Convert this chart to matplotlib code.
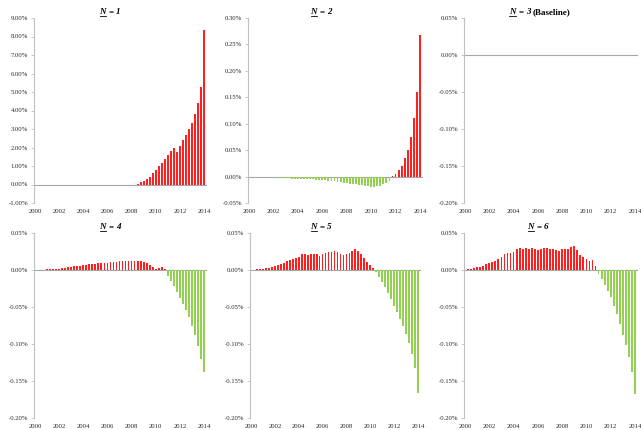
import numpy as np
import matplotlib
matplotlib.use("Agg")
import matplotlib.pyplot as plt
from matplotlib.lines import Line2D
from matplotlib.ticker import FuncFormatter, FixedLocator

plt.rcParams['font.family'] = ['Liberation Serif', 'DejaVu Serif']

# quarterly observations 2000Q1 .. 2014Q1 (x in years)
quarters = [2000 + i / 4 for i in range(57)]

# values in percent
n1 = [0.0] * 16 + [
    -0.005, -0.008, -0.01, -0.012, -0.012, -0.015, -0.015, -0.018, -0.02,
    -0.02, -0.022, -0.025, -0.025, -0.028, -0.03, -0.03, -0.025, -0.015,
    0.05, 0.12, 0.2, 0.3, 0.42, 0.6, 0.78, 0.98, 1.15, 1.38, 1.6, 1.82,
    2.0, 1.75, 2.1, 2.4, 2.65, 3.0, 3.35, 3.8, 4.4, 5.25, 8.35]

n2 = [0.0, 0.0, 0.0, 0.0, -0.0005, -0.001, -0.001, -0.0015,
      -0.002, -0.002, -0.0025, -0.003, -0.003, -0.0035, -0.004, -0.004,
      -0.0045, -0.0045, -0.005, -0.005, -0.0055, -0.0055, -0.006, -0.006,
      -0.0065, -0.007, -0.0075, -0.008,
      -0.009, -0.01, -0.011, -0.012, -0.013, -0.0135, -0.014, -0.015,
      -0.016, -0.016, -0.017, -0.018, -0.019, -0.019, -0.018, -0.017,
      -0.015, -0.012, -0.008,
      0.001, 0.004, 0.012, 0.02, 0.035, 0.05, 0.075, 0.11, 0.16, 0.268]

n3 = [0.0] * 57

n4 = [0.0, 0.0, 0.0003, 0.0005, 0.0007, 0.0009, 0.001, 0.0015, 0.002,
      0.0028, 0.0033, 0.0038, 0.0045, 0.005, 0.0055, 0.006, 0.0065, 0.0072,
      0.008, 0.0078, 0.0085, 0.009, 0.0095, 0.0098, 0.010, 0.0102, 0.011,
      0.0112, 0.012, 0.0125, 0.0122, 0.0118, 0.012, 0.0125, 0.012, 0.0115,
      0.0105, 0.009, 0.0065, 0.004, 0.002, 0.0025, 0.0035, 0.001,
      -0.008, -0.015, -0.022, -0.03, -0.038, -0.046, -0.054, -0.063,
      -0.075, -0.088, -0.103, -0.12, -0.138]

n5 = [0.0, 0.0005, 0.001, 0.0015, 0.002, 0.0025, 0.003, 0.004, 0.005,
      0.007, 0.008, 0.010, 0.012, 0.013, 0.015, 0.016, 0.017, 0.021, 0.021,
      0.020, 0.022, 0.022, 0.021, 0.019, 0.021, 0.023, 0.024, 0.025, 0.026,
      0.024, 0.021, 0.020, 0.021, 0.023, 0.026, 0.028, 0.026, 0.022, 0.016,
      0.011, 0.007, 0.003,
      -0.003, -0.009, -0.016, -0.023, -0.031, -0.039, -0.048, -0.057,
      -0.066, -0.076, -0.087, -0.099, -0.114, -0.132, -0.166]

n6 = [0.0, 0.001, 0.002, 0.003, 0.0036, 0.0045, 0.006, 0.0075, 0.009,
      0.011, 0.0126, 0.015, 0.018, 0.021, 0.0225, 0.023, 0.024, 0.029,
      0.030, 0.029, 0.030, 0.028, 0.030, 0.028, 0.027, 0.029, 0.030, 0.030,
      0.029, 0.028, 0.027, 0.026, 0.028, 0.029, 0.029, 0.031, 0.0325,
      0.027, 0.020, 0.017, 0.0145, 0.0126, 0.013, 0.005,
      -0.006, -0.012, -0.020, -0.028, -0.037, -0.048, -0.060, -0.073,
      -0.088, -0.102, -0.118, -0.138, -0.167]

series = [n1, n2, n3, n4, n5, n6]
title_nums = ["1", "2", "3", "4", "5", "6"]
title_extra = ["", "", "(Baseline)", "", "", ""]
yticks_list = [
    [-1, 0, 1, 2, 3, 4, 5, 6, 7, 8, 9],
    [-0.05, 0.0, 0.05, 0.10, 0.15, 0.20, 0.25, 0.30],
    [-0.20, -0.15, -0.10, -0.05, 0.0, 0.05],
    [-0.20, -0.15, -0.10, -0.05, 0.0, 0.05],
    [-0.20, -0.15, -0.10, -0.05, 0.0, 0.05],
    [-0.20, -0.15, -0.10, -0.05, 0.0, 0.05],
]
xtick_years = [2000, 2002, 2004, 2006, 2008, 2010, 2012, 2014]

W, H = 641, 430
fig = plt.figure(figsize=(W / 100, H / 100), dpi=100)

RED = '#FF1F1F'
GREEN = '#92D050'
GRAY = '#BFBFBF'
TXT = '#262626'

x2000 = [35, 249, 465, 35, 251, 465]
x2014 = [204, 420, 635, 204, 418, 635]
ytop = [18, 18, 18, 233, 233, 233]
ybot = [203, 203, 203, 418, 418, 418]
title_cx = [110, 321, 540, 110, 321, 538]
title_cy = [14, 14, 14, 229, 229, 229]

X0, X1 = 1999.9, 2014.25

def fmt(v, pos):
    v = round(v, 4)
    if abs(v) < 1e-9:
        v = 0.0
    return f"{v:.2f}%"

axes = []
for k in range(6):
    s = (x2014[k] - x2000[k]) / 14.0
    left = x2000[k] - (2000 - X0) * s
    width = (X1 - X0) * s
    ax = fig.add_axes([left / W, 1 - ybot[k] / H, width / W, (ybot[k] - ytop[k]) / H])
    vals = np.array(series[k])
    cols = [RED if v >= 0 else GREEN for v in vals]
    ax.axhline(0, color='#A6A6A6', lw=0.8, zorder=1)
    ax.bar(quarters, vals, width=0.15, color=cols, edgecolor='none', zorder=2)
    yt = yticks_list[k]
    ax.set_ylim(yt[0], yt[-1])
    ax.set_xlim(X0, X1)
    ax.yaxis.set_major_locator(FixedLocator(yt))
    ax.yaxis.set_major_formatter(FuncFormatter(fmt))
    ax.set_xticks(xtick_years)
    ax.set_xticklabels([str(y) for y in xtick_years])
    for sp in ['top', 'right', 'bottom']:
        ax.spines[sp].set_visible(False)
    ax.spines['left'].set_color(GRAY)
    ax.spines['left'].set_linewidth(0.8)
    ax.tick_params(axis='y', length=2, width=0.6, color=GRAY, labelsize=4.8,
                   labelcolor=TXT, pad=2)
    ax.tick_params(axis='x', length=0, labelsize=4.8, labelcolor=TXT, pad=4)
    ax.patch.set_alpha(0)
    axes.append(ax)

# titles with underlined italic N
fig.canvas.draw()
renderer = fig.canvas.get_renderer()
GAP = 2.4  # pixel gap standing in for a space
for k in range(6):
    pieces = [("N", 'italic'), ("=", 'normal'), (title_nums[k], 'italic')]
    if title_extra[k]:
        pieces.append((title_extra[k], 'normal'))
    texts = []
    for s_, st in pieces:
        t = fig.text(0, 1 - title_cy[k] / H, s_, fontsize=6.5, fontweight='bold',
                     fontstyle=st, color='#000000', va='baseline', ha='left')
        texts.append(t)
    widths = [t.get_window_extent(renderer).width for t in texts]
    total = sum(widths) + GAP * (len(widths) - 1)
    x = title_cx[k] - total / 2
    for t, w in zip(texts, widths):
        t.set_x(x / W)
        x += w + GAP
    x_n = title_cx[k] - total / 2
    ybase = title_cy[k] + 1.6
    fig.add_artist(Line2D([x_n / W, (x_n + widths[0]) / W],
                          [1 - ybase / H, 1 - ybase / H],
                          color='#000000', lw=0.6, transform=fig.transFigure))

fig.savefig("out.png", dpi=100, facecolor='white')
